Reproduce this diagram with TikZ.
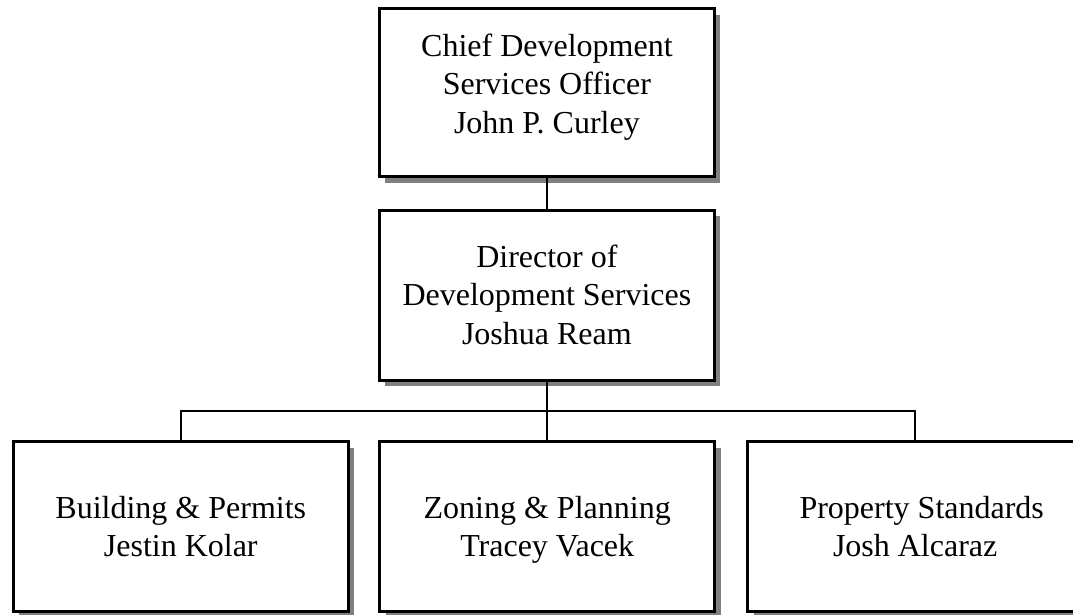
\documentclass[tikz,border=0pt]{standalone}
\usepackage{fontspec}
\setmainfont{Liberation Serif}
\usetikzlibrary{shadows}

\tikzset{
  unit/.style={draw, line width=3pt, fill=white, minimum width=335pt,
    minimum height=170pt, align=center, text depth=1pt,
    font=\fontsize{32}{38.5}\selectfont,
    drop shadow={shadow xshift=6pt, shadow yshift=-6pt, fill=black!50, opacity=1}},
  link/.style={line width=2.4pt}
}

\begin{document}
\begin{tikzpicture}[x=1pt, y=-1pt]

\useasboundingbox (0,0) rectangle (1073,615);

% top of the chart
\node[unit, minimum height=168pt] (cdso) at (546.9, 92.7) {};
\node[align=center, font=\fontsize{32}{38.5}\selectfont] (cdsotext) at ([yshift=6pt]cdso.center)
  {Chief Development\\Services Officer\\John P. Curley};

\node[unit] (dds) at (546.9, 295) {Director of\\Development Services\\Joshua Ream};

% divisions
\node[unit] (bp) at (180.8, 526.7) {Building \& Permits\\Jestin Kolar};
\node[unit] (zp) at (547.2, 526.7) {Zoning \& Planning\\Tracey Vacek};
\node[unit] (ps) at (915.2, 526.7) {\hspace*{13pt}Property Standards\\Josh Alcaraz};

\coordinate (bus) at (546.9, 411);

\draw[link] (cdso.south) -- (dds.north);
\draw[link] (dds.south) -- (bus);
\draw[link] (bp.north) -- (bp.north |- bus) -- (ps.north |- bus) -- (ps.north);
\draw[link] (zp.north) -- (zp.north |- bus);

\end{tikzpicture}
\end{document}
